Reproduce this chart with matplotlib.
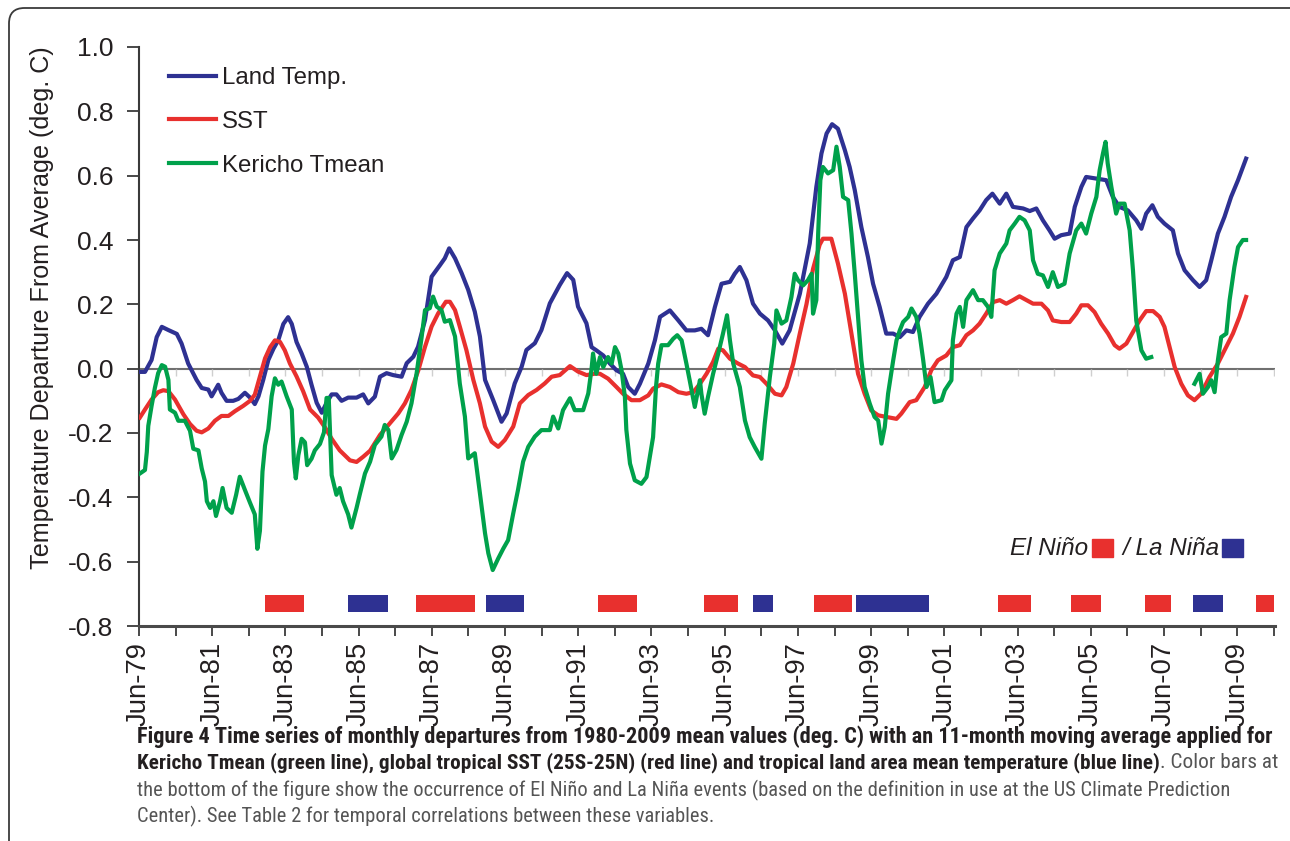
import numpy as np
import matplotlib
matplotlib.use("Agg")
import matplotlib.pyplot as plt
from matplotlib.patches import Rectangle, FancyBboxPatch
from matplotlib import font_manager as fm
from collections import defaultdict

# ---------------- data (decimal years, deg C) ----------------
land_t = [1979.44, 1979.58, 1979.76, 1979.90, 1980.04, 1980.22, 1980.45, 1980.58, 1980.76, 1980.99,
          1981.13, 1981.31, 1981.40, 1981.58, 1981.67, 1981.81, 1981.99, 1982.13, 1982.31, 1982.45,
          1982.58, 1982.68, 1982.81, 1982.95, 1983.09, 1983.22, 1983.36, 1983.49, 1983.59, 1983.72,
          1983.86, 1984.00, 1984.13, 1984.27, 1984.41, 1984.54, 1984.68, 1984.81, 1984.95, 1985.13,
          1985.36, 1985.54, 1985.68, 1985.86, 1986.00, 1986.18, 1986.36, 1986.59, 1986.73, 1986.91,
          1987.04, 1987.23, 1987.41, 1987.64, 1987.77, 1987.89, 1988.05, 1988.23, 1988.41, 1988.59,
          1988.73, 1988.87, 1989.09, 1989.32, 1989.46, 1989.68, 1989.87, 1990.00, 1990.23, 1990.41,
          1990.64, 1990.91, 1991.11, 1991.28, 1991.41, 1991.64, 1991.78, 1991.91, 1992.10, 1992.28,
          1992.46, 1992.64, 1992.78, 1992.96, 1993.10, 1993.33, 1993.51, 1993.65, 1993.92, 1994.15,
          1994.37, 1994.60, 1994.78, 1994.96, 1995.15, 1995.33, 1995.56, 1995.69, 1995.83, 1996.01,
          1996.19, 1996.38, 1996.60, 1996.79, 1996.99, 1997.19, 1997.47, 1997.74, 1997.92, 1998.06,
          1998.20, 1998.35, 1998.51, 1998.70, 1998.83, 1998.97, 1999.15, 1999.33, 1999.47, 1999.65,
          1999.83, 2000.02, 2000.20, 2000.38, 2000.56, 2000.74, 2000.97, 2001.20, 2001.47, 2001.65,
          2001.84, 2002.02, 2002.20, 2002.38, 2002.56, 2002.73, 2002.93, 2003.11, 2003.29, 2003.57,
          2003.75, 2003.93, 2004.11, 2004.29, 2004.43, 2004.61, 2004.84, 2004.98, 2005.16, 2005.29,
          2005.57, 2005.84, 2006.02, 2006.20, 2006.43, 2006.66, 2006.80, 2006.93, 2007.10, 2007.25,
          2007.43, 2007.66, 2007.80, 2007.98, 2008.21, 2008.39, 2008.57, 2008.71, 2008.89, 2009.07,
          2009.25, 2009.44, 2009.66]
land_v = [-0.010, -0.010, 0.027, 0.098, 0.130, 0.120, 0.108, 0.078, 0.016, -0.035,
          -0.060, -0.065, -0.086, -0.050, -0.075, -0.100, -0.100, -0.094, -0.075, -0.090,
          -0.110, -0.086, -0.035, 0.027, 0.062, 0.088, 0.139, 0.160, 0.139, 0.083,
          0.047, 0.006, -0.050, -0.106, -0.137, -0.106, -0.080, -0.080, -0.100, -0.090,
          -0.090, -0.080, -0.108, -0.087, -0.025, -0.014, -0.020, -0.025, 0.017, 0.037,
          0.068, 0.151, 0.286, 0.322, 0.343, 0.374, 0.343, 0.297, 0.245, 0.177,
          0.100, -0.035, -0.097, -0.165, -0.139, -0.046, 0.006, 0.058, 0.079, 0.120,
          0.203, 0.260, 0.297, 0.276, 0.193, 0.141, 0.067, 0.057, 0.041, 0.016,
          -0.005, -0.016, -0.057, -0.078, -0.047, 0.016, 0.088, 0.161, 0.181, 0.150,
          0.119, 0.119, 0.124, 0.104, 0.192, 0.264, 0.270, 0.295, 0.316, 0.275,
          0.202, 0.171, 0.150, 0.119, 0.078, 0.119, 0.233, 0.389, 0.565, 0.669,
          0.731, 0.760, 0.746, 0.679, 0.627, 0.555, 0.440, 0.347, 0.264, 0.192,
          0.109, 0.109, 0.098, 0.119, 0.114, 0.161, 0.202, 0.233, 0.285, 0.337,
          0.347, 0.440, 0.467, 0.492, 0.524, 0.544, 0.513, 0.544, 0.503, 0.498,
          0.490, 0.498, 0.461, 0.430, 0.404, 0.415, 0.420, 0.503, 0.565, 0.596,
          0.591, 0.586, 0.534, 0.503, 0.492, 0.461, 0.435, 0.482, 0.508, 0.472,
          0.451, 0.430, 0.358, 0.306, 0.275, 0.254, 0.275, 0.337, 0.420, 0.472,
          0.534, 0.586, 0.653]

sst_t = [1979.44, 1979.58, 1979.76, 1979.94, 1980.08, 1980.22, 1980.40, 1980.63, 1980.81, 1980.99,
         1981.13, 1981.31, 1981.49, 1981.67, 1981.86, 1982.04, 1982.26, 1982.45, 1982.58, 1982.72,
         1982.86, 1983.00, 1983.13, 1983.27, 1983.40, 1983.54, 1983.72, 1983.90, 1984.09, 1984.31,
         1984.50, 1984.68, 1984.90, 1985.18, 1985.36, 1985.54, 1985.73, 1986.00, 1986.27, 1986.50,
         1986.68, 1986.86, 1987.05, 1987.23, 1987.41, 1987.59, 1987.80, 1987.91, 1988.05, 1988.18,
         1988.36, 1988.55, 1988.73, 1988.87, 1989.05, 1989.23, 1989.41, 1989.64, 1989.82, 1990.05,
         1990.28, 1990.50, 1990.69, 1990.91, 1991.19, 1991.41, 1991.64, 1991.91, 1992.01, 1992.23,
         1992.46, 1992.64, 1992.87, 1993.10, 1993.33, 1993.46, 1993.69, 1993.92, 1994.15, 1994.37,
         1994.56, 1994.74, 1994.92, 1995.10, 1995.24, 1995.37, 1995.56, 1995.78, 1995.97, 1996.19,
         1996.38, 1996.56, 1996.79, 1996.97, 1997.10, 1997.29, 1997.47, 1997.65, 1997.83, 1998.01,
         1998.10, 1998.33, 1998.51, 1998.70, 1998.88, 1999.06, 1999.24, 1999.42, 1999.61, 1999.83,
         2000.11, 2000.24, 2000.47, 2000.65, 2000.88, 2001.06, 2001.24, 2001.47, 2001.65, 2001.84,
         2002.02, 2002.20, 2002.38, 2002.56, 2002.75, 2002.93, 2003.11, 2003.29, 2003.47, 2003.66,
         2003.84, 2004.07, 2004.25, 2004.38, 2004.61, 2004.84, 2005.02, 2005.16, 2005.34, 2005.52,
         2005.70, 2005.89, 2006.07, 2006.20, 2006.39, 2006.57, 2006.75, 2006.93, 2007.12, 2007.30,
         2007.43, 2007.57, 2007.71, 2007.89, 2008.07, 2008.25, 2008.43, 2008.66, 2008.89, 2009.07,
         2009.30, 2009.48, 2009.66]
sst_v = [-0.152, -0.127, -0.096, -0.073, -0.067, -0.070, -0.096, -0.142, -0.172, -0.193,
         -0.198, -0.186, -0.162, -0.147, -0.147, -0.132, -0.116, -0.100, -0.081, -0.024,
         0.032, 0.067, 0.088, 0.083, 0.057, 0.016, -0.024, -0.070, -0.127, -0.152,
         -0.183, -0.218, -0.254, -0.285, -0.290, -0.274, -0.255, -0.206, -0.170, -0.139,
         -0.108, -0.066, -0.004, 0.068, 0.131, 0.172, 0.208, 0.208, 0.182, 0.131,
         0.058, -0.035, -0.108, -0.180, -0.227, -0.243, -0.222, -0.180, -0.108, -0.082,
         -0.066, -0.046, -0.025, -0.020, 0.008, -0.009, -0.020, -0.015, -0.016, -0.031,
         -0.057, -0.078, -0.098, -0.098, -0.083, -0.062, -0.049, -0.057, -0.073, -0.078,
         -0.073, -0.047, -0.016, 0.021, 0.062, 0.057, 0.031, 0.016, 0.005, -0.021,
         -0.026, -0.047, -0.078, -0.083, -0.057, 0.016, 0.110, 0.200, 0.310, 0.385,
         0.404, 0.404, 0.327, 0.233, 0.109, -0.016, -0.078, -0.130, -0.145, -0.150,
         -0.156, -0.140, -0.104, -0.098, -0.057, -0.005, 0.026, 0.041, 0.067, 0.073,
         0.104, 0.119, 0.140, 0.171, 0.207, 0.213, 0.202, 0.213, 0.225, 0.213,
         0.202, 0.202, 0.181, 0.150, 0.145, 0.145, 0.171, 0.197, 0.197, 0.176,
         0.140, 0.109, 0.073, 0.062, 0.078, 0.114, 0.150, 0.179, 0.179, 0.161,
         0.130, 0.067, 0.005, -0.047, -0.083, -0.098, -0.078, -0.026, 0.016, 0.057,
         0.109, 0.161, 0.223]

kericho_t = [1979.44, 1979.58, 1979.63, 1979.67, 1979.76, 1979.85, 1979.94, 1980.04, 1980.13, 1980.22,
             1980.26, 1980.40, 1980.49, 1980.67, 1980.81, 1980.90, 1981.04, 1981.13, 1981.22, 1981.27,
             1981.36, 1981.45, 1981.52, 1981.63, 1981.70, 1981.81, 1981.95, 1982.07, 1982.17, 1982.31,
             1982.45, 1982.58, 1982.65, 1982.72, 1982.79, 1982.86, 1982.95, 1983.04, 1983.13, 1983.22,
             1983.31, 1983.45, 1983.59, 1983.65, 1983.70, 1983.77, 1983.86, 1983.95, 1984.01, 1984.13,
             1984.22, 1984.36, 1984.47, 1984.54, 1984.60, 1984.68, 1984.81, 1984.90, 1984.99, 1985.13,
             1985.22, 1985.36, 1985.45, 1985.59, 1985.73, 1985.86, 1986.04, 1986.13, 1986.23, 1986.32,
             1986.45, 1986.59, 1986.73, 1986.86, 1987.00, 1987.14, 1987.23, 1987.36, 1987.45, 1987.55,
             1987.68, 1987.77, 1987.91, 1988.05, 1988.18, 1988.32, 1988.41, 1988.59, 1988.73, 1988.87,
             1988.96, 1989.08, 1989.23, 1989.37, 1989.50, 1989.64, 1989.77, 1989.91, 1990.05, 1990.23,
             1990.41, 1990.64, 1990.73, 1990.87, 1991.00, 1991.19, 1991.32, 1991.55, 1991.69, 1991.78,
             1991.82, 1991.91, 1992.01, 1992.10, 1992.23, 1992.33, 1992.42, 1992.51, 1992.60, 1992.69,
             1992.73, 1992.83, 1992.96, 1993.14, 1993.28, 1993.37, 1993.46, 1993.54, 1993.60, 1993.69,
             1993.87, 1994.01, 1994.12, 1994.24, 1994.37, 1994.46, 1994.60, 1994.74, 1994.78, 1994.87,
             1994.96, 1995.10, 1995.24, 1995.37, 1995.48, 1995.56, 1995.65, 1995.83, 1995.97, 1996.10,
             1996.24, 1996.42, 1996.51, 1996.65, 1996.77, 1996.83, 1996.97, 1997.10, 1997.24, 1997.33,
             1997.42, 1997.56, 1997.69, 1997.79, 1997.83, 1997.92, 1997.97, 1998.03, 1998.10, 1998.24,
             1998.38, 1998.47, 1998.56, 1998.65, 1998.79, 1998.88, 1998.97, 1999.06, 1999.15, 1999.24,
             1999.38, 1999.51, 1999.61, 1999.70, 1999.79, 1999.88, 2000.02, 2000.11, 2000.20, 2000.29,
             2000.43, 2000.52, 2000.65, 2000.74, 2000.84, 2000.93, 2001.04, 2001.15, 2001.34, 2001.43,
             2001.61, 2001.65, 2001.75, 2001.84, 2001.93, 2002.02, 2002.20, 2002.34, 2002.47, 2002.61,
             2002.70, 2002.79, 2002.93, 2003.11, 2003.20, 2003.34, 2003.47, 2003.61, 2003.75, 2003.84,
             2003.97, 2004.11, 2004.25, 2004.38, 2004.52, 2004.70, 2004.84, 2005.02, 2005.16, 2005.29,
             2005.43, 2005.57, 2005.66, 2005.75, 2005.82, 2005.88, 2005.98, 2006.11, 2006.20, 2006.34,
             2006.48, 2006.57, 2006.66, 2006.80, 2006.93, 2007.07, 2007.60,
             2008.25, 2008.39, 2008.48, 2008.62, 2008.71, 2008.80, 2008.89, 2008.98, 2009.12, 2009.21,
             2009.34, 2009.44, 2009.57, 2009.66]
kericho_v = [-0.326, -0.315, -0.259, -0.178, -0.116, -0.060, -0.014, 0.011, 0.006, -0.035,
             -0.127, -0.137, -0.162, -0.162, -0.193, -0.249, -0.254, -0.310, -0.351, -0.412,
             -0.433, -0.412, -0.458, -0.412, -0.371, -0.433, -0.448, -0.392, -0.336, -0.377,
             -0.417, -0.453, -0.560, -0.504, -0.320, -0.239, -0.188, -0.086, -0.030, -0.050,
             -0.040, -0.086, -0.127, -0.290, -0.341, -0.269, -0.218, -0.229, -0.300, -0.280,
             -0.254, -0.234, -0.198, -0.091, -0.091, -0.331, -0.392, -0.371, -0.412, -0.453,
             -0.494, -0.433, -0.390, -0.326, -0.289, -0.237, -0.211, -0.175, -0.191, -0.279,
             -0.253, -0.206, -0.165, -0.108, -0.015, 0.100, 0.182, 0.188, 0.224, 0.193,
             0.182, 0.146, 0.151, 0.100, -0.046, -0.149, -0.279, -0.263, -0.388, -0.512,
             -0.574, -0.626, -0.590, -0.559, -0.533, -0.450, -0.377, -0.289, -0.243, -0.211,
             -0.191, -0.191, -0.149, -0.186, -0.129, -0.092, -0.129, -0.129, -0.077, 0.000,
             0.047, -0.016, 0.036, 0.005, 0.036, 0.016, 0.067, 0.047, -0.005, -0.088,
             -0.190, -0.295, -0.347, -0.358, -0.337, -0.275, -0.213, -0.057, 0.016, 0.073,
             0.073, 0.093, 0.104, 0.088, 0.016, -0.036, -0.119, -0.036, -0.078, -0.140,
             -0.088, -0.016, 0.047, 0.109, 0.166, 0.088, 0.016, -0.057, -0.161, -0.213,
             -0.244, -0.280, -0.171, -0.026, 0.078, 0.181, 0.140, 0.150, 0.223, 0.295,
             0.275, 0.259, 0.275, 0.295, 0.171, 0.213, 0.420, 0.586, 0.627, 0.607,
             0.617, 0.690, 0.627, 0.534, 0.524, 0.420, 0.295, 0.161, 0.026, -0.057,
             -0.109, -0.150, -0.161, -0.233, -0.181, -0.078, 0.026, 0.088, 0.119, 0.145,
             0.161, 0.187, 0.161, 0.109, 0.026, -0.057, -0.026, -0.104, -0.098, -0.067,
             -0.036, 0.088, 0.171, 0.192, 0.130, 0.213, 0.244, 0.213, 0.213, 0.192,
             0.161, 0.306, 0.358, 0.389, 0.430, 0.451, 0.472, 0.461, 0.430, 0.337,
             0.295, 0.290, 0.254, 0.300, 0.254, 0.264, 0.358, 0.430, 0.451, 0.420,
             0.482, 0.534, 0.617, 0.669, 0.705, 0.638, 0.565, 0.482, 0.513, 0.513,
             0.430, 0.306, 0.150, 0.057, 0.031, 0.036, np.nan,
             -0.047, -0.016, -0.078, -0.057, -0.036, -0.073, 0.026, 0.098, 0.109, 0.213,
             0.316, 0.378, 0.400, 0.400]

elnino_start = [1982.86, 1986.98, 1991.95, 1994.85, 1997.85, 2002.87, 2004.89, 2006.89, 2009.92]
elnino_end = [1983.92, 1988.59, 1993.02, 1995.77, 1998.89, 2003.78, 2005.71, 2007.60, 2010.41]
lanina_start = [1985.12, 1988.89, 1996.18, 1999.00, 2008.20]
lanina_end = [1986.22, 1989.93, 1996.73, 2000.99, 2009.02]

tick_years = list(range(1979, 2011))
yticks = [-0.8, -0.6, -0.4, -0.2, 0.0, 0.2, 0.4, 0.6, 0.8, 1.0]

series_names = ["Land Temp.", "SST", "Kericho Tmean"]
BLUE, RED, GREEN = "#2e3192", "#e8302e", "#00a14b"

# ---------------- fonts ----------------
_wnames = {"thin": 100, "extralight": 200, "ultralight": 200, "light": 300, "normal": 400,
           "regular": 400, "book": 400, "medium": 500, "semibold": 600, "demibold": 600,
           "bold": 700, "extrabold": 800, "heavy": 900, "black": 900}
wmap = defaultdict(set)
for f in fm.fontManager.ttflist:
    w = f.weight if isinstance(f.weight, (int, float)) else _wnames.get(str(f.weight).lower(), 400)
    if f.style == "normal":
        wmap[f.name].add(int(w))
names = set(wmap)
main_font = "Liberation Sans" if "Liberation Sans" in names else "DejaVu Sans"

cap_font, cap_reg_w, cap_bold_w = None, 400, 700
for cand in ["Liberation Sans Narrow", "Open Sans Condensed", "Roboto Condensed",
             "Noto Sans Condensed", "Lato", "Open Sans", main_font]:
    ws = wmap.get(cand, set())
    regs = [w for w in ws if w < 600]
    bolds = [w for w in ws if w >= 600]
    if regs and bolds:
        cap_font = cand
        cap_reg_w = min(regs, key=lambda w: abs(w - 400))
        cap_bold_w = min(bolds, key=lambda w: abs(w - 700))
        break
if cap_font is None:
    cap_font = main_font

plt.rcParams["font.family"] = [main_font, "DejaVu Sans"]
plt.rcParams["axes.unicode_minus"] = False

W, H = 1290, 841
fig = plt.figure(figsize=(W / 100, H / 100), dpi=100)
fig.patch.set_facecolor("white")

# outer rounded frame
frame = FancyBboxPatch((9 / W, -0.2), 1.3, 1.2 - 8 / H,
                       boxstyle="round,pad=0,rounding_size=0.012",
                       transform=fig.transFigure, fill=False, ec="#3a3a3a", lw=1.3,
                       mutation_aspect=W / H)
fig.patches.append(frame)

ax = fig.add_axes([139 / W, 1 - 626 / H, 1136 / W, 579 / H])
ax.set_xlim(1979.417, 2010.45)
ax.set_ylim(-0.8, 1.0)

# zero line with light ticks
ax.axhline(0, color="#707070", lw=1.5, zorder=1)
tick_pos = [y + 5 / 12 for y in tick_years]
ax.vlines(tick_pos[1:], -0.022, 0, color="#cfcfcf", lw=1, zorder=1)

lw = 3.0
ax.plot(land_t, land_v, color=BLUE, lw=lw, label=series_names[0], zorder=3)
ax.plot(sst_t, sst_v, color=RED, lw=lw, label=series_names[1], zorder=3)
ax.plot(kericho_t, kericho_v, color=GREEN, lw=lw, label=series_names[2], zorder=4)

# ENSO bars
ax.broken_barh([(s, e - s) for s, e in zip(elnino_start, elnino_end)], (-0.757, 0.053),
               facecolors=RED, zorder=2)
ax.broken_barh([(s, e - s) for s, e in zip(lanina_start, lanina_end)], (-0.757, 0.053),
               facecolors=BLUE, zorder=2)

# axes styling
for s in ["top", "right"]:
    ax.spines[s].set_visible(False)
ax.spines["left"].set_color("#3a3a3a")
ax.spines["left"].set_linewidth(1.5)
ax.spines["bottom"].set_color("#4a4a4a")
ax.spines["bottom"].set_linewidth(2.2)

ax.set_yticks(yticks)
ax.set_yticklabels([f"{v:.1f}" for v in yticks])
ax.set_xticks(tick_pos)
ax.set_xticklabels([f"Jun-{y % 100:02d}" if (y - 1979) % 2 == 0 else "" for y in tick_years],
                   rotation=90)
ax.tick_params(axis="y", length=8.6, width=1.3, color="#3a3a3a", pad=10, labelsize=19,
               labelcolor="#231f20")
ax.tick_params(axis="x", length=7, width=1.3, color="#3a3a3a", pad=4.5, labelsize=19.8,
               labelcolor="#231f20")

ax.set_ylabel("Temperature Departure From Average (deg. C)", fontsize=18.1, color="#231f20",
              va="center")
ax.yaxis.set_label_coords(-0.0854, 0.549)

leg = ax.legend(loc="upper left", bbox_to_anchor=(0.026, 0.965), frameon=False, fontsize=17.3,
                handlelength=1.96, handletextpad=0.25, labelspacing=0.9, borderpad=0,
                borderaxespad=0)
for t in leg.get_texts():
    t.set_color("#231f20")

# El Nino / La Nina key
ax.text(0.8354, 0.1347, "El Niño", transform=ax.transAxes, ha="right", va="center",
        fontsize=17.5, style="italic", color="#231f20")
ax.add_patch(Rectangle((0.8389, 0.1192), 0.0185, 0.0311, transform=ax.transAxes,
                       color=RED, clip_on=False))
ax.text(0.8653, 0.1347, "/ La Niña", transform=ax.transAxes, ha="left", va="center",
        fontsize=17.5, style="italic", color="#231f20")
ax.add_patch(Rectangle((0.9533, 0.1192), 0.0185, 0.0311, transform=ax.transAxes,
                       color=BLUE, clip_on=False))

# ---------------- caption ----------------
r = fig.canvas.get_renderer()
cap_x = 137 / W
line1 = ("Figure 4 Time series of monthly departures from 1980-2009 mean values (deg. C) "
         "with an 11-month moving average applied for")
line2b = ("Kericho Tmean (green line), global tropical SST (25S-25N) (red line) and tropical "
          "land area mean temperature (blue line)")
line2r = ". Color bars at"
line3 = ("the bottom of the figure show the occurrence of El Niño and La Niña events (based on "
         "the definition in use at the US Climate Prediction")
line4 = "Center). See Table 2 for temporal correlations between these variables."

fam = [cap_font, "DejaVu Sans"]
t1 = fig.text(cap_x, 1 - 737 / H, line1, fontsize=12, fontweight=cap_bold_w, family=fam,
              va="center", color="#231f20")
w1 = t1.get_window_extent(r).width
fs = 12 * 1139 / w1
t1.set_fontsize(fs)
t2 = fig.text(cap_x, 1 - 763 / H, line2b, fontsize=fs, fontweight=cap_bold_w, family=fam,
              va="center", color="#231f20")
t2r = fig.text(0, 1 - 763 / H, line2r, fontsize=fs, fontweight=cap_reg_w, family=fam,
               va="center", color="#555555")
w2 = t2.get_window_extent(r).width
w2r = t2r.get_window_extent(r).width
total = w2 + w2r
if total > 1139:
    s = 1139 / total
    t2.set_fontsize(fs * s)
    t2r.set_fontsize(fs * s)
    w2 = t2.get_window_extent(r).width
t2r.set_x(cap_x + w2 / W)
t3 = fig.text(cap_x, 1 - 790 / H, line3, fontsize=fs, fontweight=cap_reg_w, family=fam,
              va="center", color="#555555")
w3 = t3.get_window_extent(r).width
t3.set_fontsize(fs * 1091 / w3)
fig.text(cap_x, 1 - 816 / H, line4, fontsize=t3.get_fontsize(), fontweight=cap_reg_w, family=fam,
         va="center", color="#555555")

fig.savefig("out.png", dpi=100, facecolor="white")
